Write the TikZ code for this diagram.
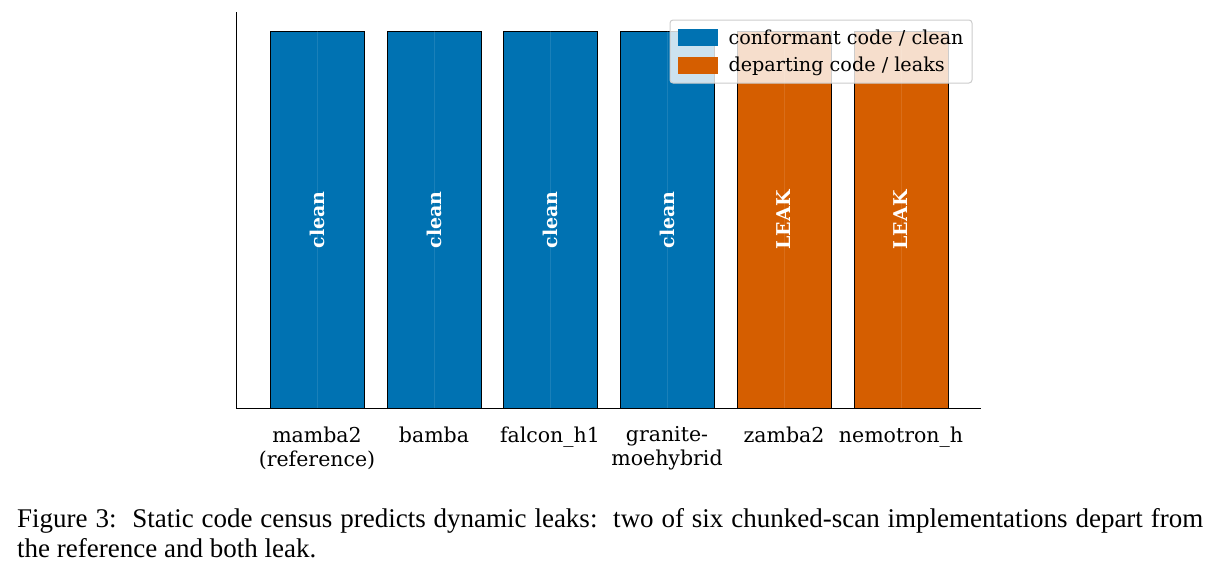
\documentclass[tikz,border=0pt]{standalone}
\usepackage{fontspec}
\setmainfont{Liberation Serif}
\newfontfamily\plotfont{DejaVu Serif}
\definecolor{cblue}{HTML}{0072B2}
\definecolor{corange}{HTML}{D55E00}
\begin{document}
\begin{tikzpicture}[x=1pt,y=-1pt,
  bar/.style={draw=black,line width=0.8pt},
  tick/.style={font=\plotfont\fontsize{20.5}{24}\selectfont,align=center,anchor=north},
  inbar/.style={font=\plotfont\bfseries\fontsize{19}{23}\selectfont,text=white,rotate=90},
  leg/.style={font=\plotfont\fontsize{19.2}{22}\selectfont,anchor=west}]
\useasboundingbox (0,0) rectangle (1219,587);
\foreach \x/\c/\t/\n in {270/cblue/clean/b1,387/cblue/clean/b2,503/cblue/clean/b3,620/cblue/clean/b4,737/corange/LEAK/b5,854/corange/LEAK/b6}{
  \draw[bar,fill=\c] (\x,31) rectangle (\x+94,408);
  \draw[white,opacity=0.1,line width=0.8pt] (\x+47,12) -- (\x+47,408);
  \node[inbar] (\n) at (\x+47,220) {\t};
}
\draw[line width=1pt] (236,12) -- (236,408) -- (981,408);
\node[tick] (t1) at (317,423) {mamba2\\(reference)};
\node[tick] (t2) at (434,423) {bamba};
\node[tick] (t3) at (550,423) {falcon\_h1};
\node[tick] (t4) at (667,423) {granite-\\moehybrid};
\node[tick] (t5) at (784,423) {zamba2};
\node[tick] (t6) at (901,423) {nemotron\_h};
\draw[draw=black!20,fill=white,fill opacity=0.8,rounded corners=3pt,line width=1pt] (670,20) rectangle (972,83);
\fill[cblue] (678,29) rectangle (718,46);
\fill[corange] (678,57) rectangle (718,74);
\node[leg] (l1) at (725,38) {conformant code / clean};
\node[leg] (l2) at (725,66) {departing code / leaks};
\node[anchor=north west,align=justify,text width=1186pt,font=\fontsize{27}{30}\selectfont,inner sep=0pt] (cap) at (17,508) {Figure 3:\ \ Static code census predicts dynamic leaks:\ \ two of six chunked-scan implementations depart from the reference and both leak.};
\end{tikzpicture}
\end{document}
